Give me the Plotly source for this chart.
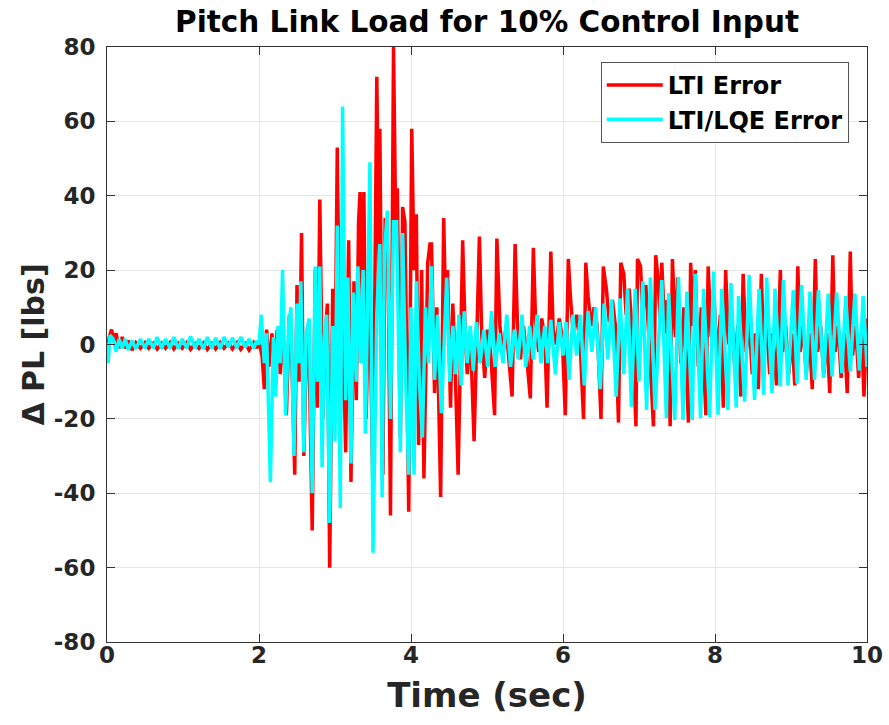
import plotly.graph_objects as go

# ---- data ----
lti_t = [0, 0.03, 0.06, 0.09, 0.12, 0.16, 0.2, 0.24, 0.28, 0.33, 0.38, 0.44, 0.5, 0.55, 0.61, 0.66,
         0.72, 0.77, 0.83, 0.88, 0.94, 0.99, 1.05, 1.1, 1.16, 1.21, 1.27, 1.32, 1.38, 1.43, 1.49, 1.54,
         1.6, 1.65, 1.71, 1.76, 1.82, 1.87, 1.93, 1.97,
         2.00, 2.04, 2.07, 2.10, 2.13, 2.17, 2.21, 2.24, 2.28, 2.31, 2.36, 2.40, 2.43, 2.47, 2.50, 2.53,
         2.56, 2.59, 2.63, 2.66, 2.70, 2.74, 2.77, 2.80, 2.84, 2.87, 2.90, 2.93, 2.97, 3.00, 3.03, 3.07,
         3.10, 3.14, 3.18, 3.21, 3.25, 3.28, 3.31, 3.33, 3.36, 3.38, 3.41, 3.45, 3.50, 3.55, 3.58, 3.59,
         3.63, 3.66, 3.70, 3.73, 3.77, 3.80, 3.82, 3.86, 3.89, 3.92, 3.97, 4.01, 4.04, 4.07, 4.10, 4.14,
         4.17, 4.22, 4.25,
         4.27, 4.31, 4.34, 4.39, 4.43, 4.46, 4.48, 4.52, 4.55, 4.58, 4.62, 4.68, 4.71, 4.74, 4.78, 4.83,
         4.90, 4.93, 4.97, 5.01, 5.05, 5.10, 5.13, 5.17, 5.21, 5.25, 5.29, 5.33, 5.37, 5.40, 5.44, 5.48,
         5.52, 5.57, 5.61, 5.64, 5.68, 5.72, 5.76, 5.79, 5.84, 5.87, 5.91, 5.95, 5.99, 6.03, 6.07, 6.10,
         6.14, 6.18, 6.22, 6.27, 6.30, 6.33, 6.37, 6.41, 6.45, 6.50, 6.53, 6.57, 6.61, 6.65, 6.69, 6.73,
         6.76, 6.80, 6.83, 6.87, 6.91, 6.96, 6.98, 7.02, 7.05, 7.09, 7.13, 7.19, 7.22, 7.25, 7.28, 7.30,
         7.34, 7.37, 7.41, 7.44, 7.48, 7.51, 7.55, 7.59, 7.65, 7.68, 7.71, 7.74, 7.78, 7.82, 7.88, 7.91,
         7.95, 7.99, 8.03, 8.07, 8.11, 8.14, 8.18, 8.22, 8.26, 8.30, 8.34, 8.37, 8.41, 8.45, 8.49, 8.53,
         8.57, 8.61, 8.64, 8.68, 8.72, 8.76, 8.81, 8.86, 8.89, 8.93, 8.97, 9.01, 9.05, 9.09, 9.12, 9.16,
         9.20, 9.24, 9.28, 9.32, 9.35, 9.39, 9.43, 9.47, 9.51, 9.55, 9.58, 9.62, 9.66, 9.70, 9.74, 9.78,
         9.81, 9.85, 9.89, 9.93, 9.96, 10.0]
lti_v = [-3, 2, 4, 1, 3, -1, 2, -1, 1, -1.5, 0.5, -1, 0.5, -1, 0.3, -1.2,
         0.3, -1, 0.5, -1.2, 0.3, -1, 0.5, -1.3, 0.2, -1, 0.4, -1.3, 0.3, -1.2, 0.5, -1,
         0.3, -1.2, 0.5, -1.3, 0.2, -1.5, 0.5, -1,
         1, -3, -12, 4, -6, 3, -5, 4, -8, 8, -19, 8, -3, -35, 16, -10,
         30, -30, 4, -3, -50, 20, -17, 39, -20, 2, 11, -60, 15, -10, 53, -20,
         10, -29, 28, -37, 17, -15, 33, 41, 10, 41, -20, 20, -40, 72, 20, 58,
         -35, 34, 20, -46, 80, 30, 42, -25, 37, 33, -45, 58, 20, 35, -27, 20,
         -36, 22, 27,
         27, -13, 10, -41, 34, 5, 20, -17, 11, -5, -35, 28, 5, -8, 4, -26,
         29, 3, -9, 4, -3, -19, 28.5, 5, -3, 5, -4, -14, 27, 6, -4, 5,
         -3, -14.5, 26, 6, -2, 7, 2, -17, 25, 4, 0, 7, 2, -19, 23, 12,
         2, 8, 3, -20, 22, 13, 5, 10, 5, -20, 21, 15, 6, 12, 5, -21,
         22, 19, 8, 15, 4, -22, 23, 21, 8, 16, 2, -22, 24, 18, 6, 22,
         3, 12, -22, 23, 2, 18, -5, 10, -21, 22, 5, 20, -6, 10, -19, 21,
         2, 12, -5, 8, -17, 20, 0, 8, -6, 5, -14, 19, -2, 6, -8, 3,
         -12, 19, -3, 5, -8, 3, -11, 20, -2, 5, -8, 3, -11, 21, -2, 5,
         -8, 3, -12, 23, -2, 5, -8, 3, -13, 24, -2, 5, -9, 3, -13, 25,
         -3, 5, -9, 3, -14, 7]

lqe_t = [0, 0.015, 0.04, 0.08, 0.12, 0.16, 0.2, 0.24, 0.28, 0.33, 0.38, 0.44, 0.5, 0.55, 0.61, 0.66,
         0.72, 0.77, 0.83, 0.88, 0.94, 0.99, 1.05, 1.1, 1.16, 1.21, 1.27, 1.32, 1.38, 1.43, 1.49, 1.54,
         1.6, 1.65, 1.71, 1.76, 1.82, 1.87, 1.93, 1.97,
         2.00, 2.03, 2.07, 2.10, 2.15, 2.19, 2.22, 2.25, 2.28, 2.31, 2.35, 2.39, 2.42, 2.46, 2.50, 2.53,
         2.55, 2.59, 2.62, 2.66, 2.70, 2.74, 2.77, 2.80, 2.83, 2.86, 2.89, 2.93, 2.97, 3.00, 3.03, 3.07,
         3.10, 3.14, 3.17, 3.21, 3.24, 3.28, 3.30, 3.34, 3.37, 3.40, 3.46, 3.50, 3.55, 3.59, 3.62, 3.65,
         3.69, 3.73, 3.77, 3.81, 3.86, 3.89, 3.93, 3.97, 4.00, 4.04, 4.07, 4.11, 4.15, 4.19, 4.23, 4.27,
         4.31, 4.35, 4.40, 4.44, 4.47, 4.51, 4.55, 4.59, 4.63, 4.66, 4.70, 4.74, 4.78, 4.82,
         4.86, 4.91, 4.96, 5.01, 5.06, 5.11, 5.16, 5.21, 5.26, 5.31, 5.36, 5.41, 5.46, 5.51, 5.56, 5.61,
         5.66, 5.71, 5.76, 5.80,
         5.84, 5.90, 5.95, 6.00, 6.04, 6.08, 6.13, 6.18, 6.23, 6.28, 6.33, 6.38, 6.43, 6.49, 6.54, 6.59,
         6.64, 6.70, 6.75, 6.80, 6.85, 6.90, 6.95, 7.00, 7.05, 7.10, 7.15,
         7.21, 7.30, 7.36, 7.39, 7.47, 7.52, 7.58, 7.63, 7.70, 7.74, 7.81, 7.85, 7.93, 7.98, 8.04, 8.09,
         8.17, 8.21, 8.28, 8.31, 8.39, 8.45, 8.52, 8.58, 8.64,
         8.68, 8.75, 8.79, 8.86, 8.90, 8.96, 9.03, 9.08, 9.14, 9.20, 9.25, 9.31, 9.36, 9.43, 9.49, 9.54,
         9.60, 9.67, 9.72, 9.78, 9.84, 9.90, 9.95, 10.0]
lqe_v = [0.5, -5, 2.5, 1.5, -2, 1.5, -1, 1.5, -1.5, 1, -1.2, 1.5, -1, 1.5, -1, 2,
         -1, 1.5, -1, 2, -1.2, 1.5, -1, 2.2, -1, 1.5, -1.2, 2, -1, 1.8, -1.2, 2,
         -0.8, 1.8, -1, 2, -0.8, 1.5, -1, 1,
         0, 8, -5, 3, -37, 2, -14, 5, -5, 20, -19, 5, 10, -30, 11, -5,
         17, -29, 3, 7, -40, 21, -10, 21, -33, 2, 8, -48, 5, -26, 32, -44,
         64, -15, 18, -32, 14, -10, 21, -5, 20, -24, 49, -56, 8, 27, -41, 25,
         36, -20, 33, 33, -29, 30, -10, -35, 10, -35, 17, -10, -25, 10, -5, 21,
         -9.5, 8, -18.5, 5, 18, -10, 5, -8, 8, -11, 9, -5, 5, -7,
         6, -5, 4, -6, 9, -6, 3, -5, 8, -6, 4, -4, 8, -6, 5, -4,
         8, -5, 5, -5,
         6.6, -8, 6, -3, 6, -9.5, 8, -3, 8, -11, 9, -2, 10, -12, 11, -4,
         12, -14, 12.4, -8, 15, -16.7, 15, -10, 17, -17.6, 18,
         -17.6, 17.3, -19.8, 13.8, -20.3, 18, -20.3, 14.2, -20.3, 19, -19.8, 15, -19.5, 19.6, -18.9, 15,
         -17.6, 16.5, -17, 13, -15.4, 18.7, -14.9, 15, -13.5,
         18, -13, 15, -11.3, 17.3, -11, 14.6, -10.5, 16, -9.5, 14.2, -9.5, 14.6, -9, 13.7, -8.6,
         14, -7.7, 13, -7.3, 13.7, -7, 13, -6]

y_ticks = [-80, -60, -40, -20, 0, 20, 40, 60, 80]
y_labels = ["-80", "-60", "-40", "-20", "0", "20", "40", "60", "80"]
x_ticks = [0, 2, 4, 6, 8, 10]
x_labels = ["0", "2", "4", "6", "8", "10"]

FONT = "DejaVu Sans, Liberation Sans, sans-serif"

fig = go.Figure()
fig.add_trace(go.Scatter(x=lti_t, y=lti_v, mode="lines", name="LTI Error",
                         line=dict(color="#ff0000", width=3.5)))
fig.add_trace(go.Scatter(x=lqe_t, y=lqe_v, mode="lines", name="LTI/LQE Error",
                         line=dict(color="#00ffff", width=3.5)))

axis_common = dict(showgrid=True, gridcolor="#e6e6e6", gridwidth=1, automargin=False,
                   showline=True, linecolor="#333333", linewidth=1, mirror="ticks",
                   ticks="inside", ticklen=8, tickcolor="#333333", zeroline=False,
                   tickfont=dict(family=FONT, size=23, color="#262626", weight="bold"))

fig.update_layout(
    width=889, height=725,
    margin=dict(l=107, r=22, t=47, b=83),
    paper_bgcolor="white", plot_bgcolor="white",
    title=dict(text="Pitch Link Load for 10% Control Input", x=0.5, xanchor="center",
               xref="paper", y=1 - 22 / 725, yanchor="middle", automargin=False,
               font=dict(family=FONT, size=29.5, color="black", weight="bold")),
    xaxis=dict(range=[0, 10], tickvals=x_ticks, ticktext=x_labels, ticklabelstandoff=-8,
               title=dict(text="Time (sec)", standoff=16,
                          font=dict(family=FONT, size=34, color="#262626", weight="bold")),
               **axis_common),
    yaxis=dict(range=[-80, 80], tickvals=y_ticks, ticktext=y_labels, ticklabelstandoff=6,
               title=dict(text="Δ PL [lbs]", standoff=0,
                          font=dict(family=FONT, size=30, color="#262626", weight="bold")),
               **axis_common),
    legend=dict(x=0.976, y=0.975, xanchor="right", yanchor="top",
                bgcolor="white", bordercolor="#555555", borderwidth=1,
                font=dict(family=FONT, size=24, color="black", weight="bold"),
                tracegroupgap=0, itemwidth=56),
    showlegend=True,
)

fig.write_html("out.html")
